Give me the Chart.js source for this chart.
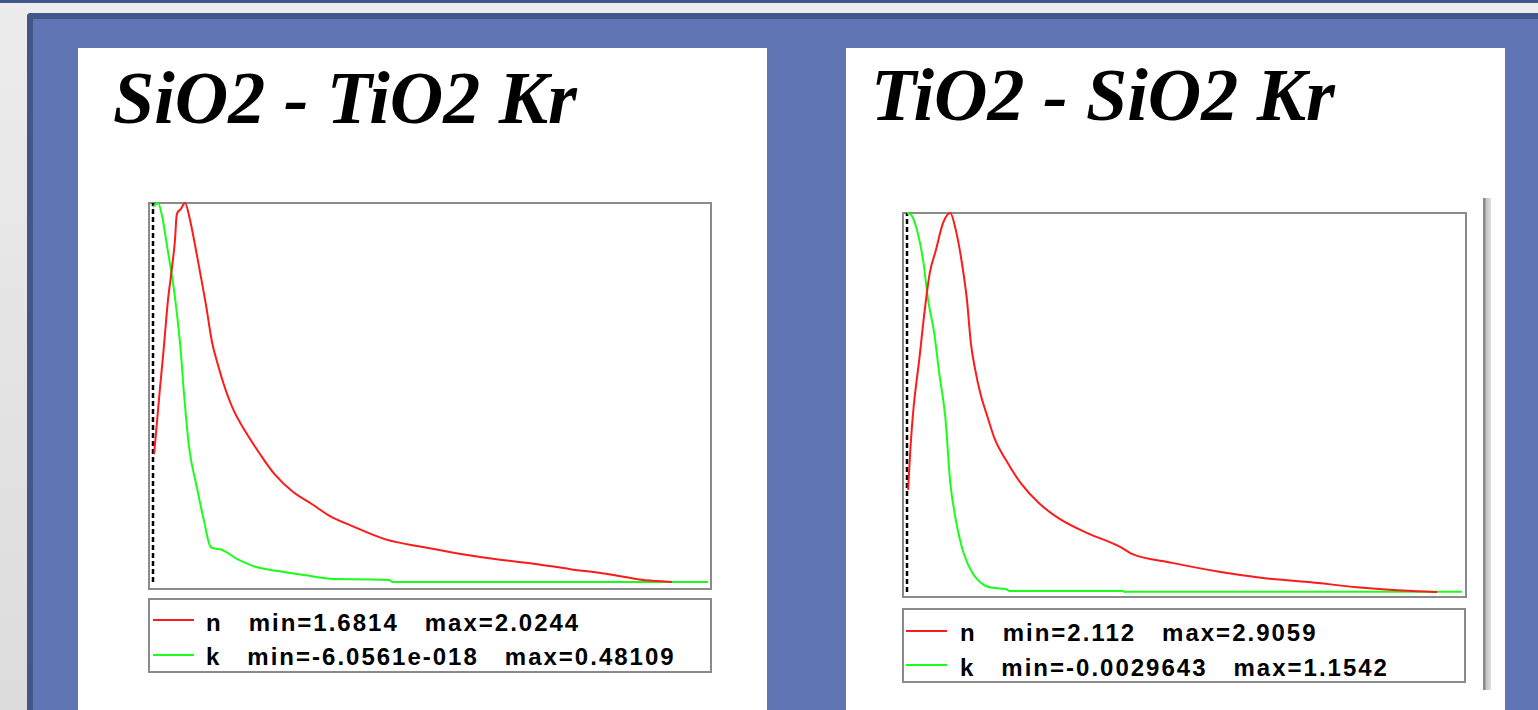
<!DOCTYPE html>
<html>
<head>
<meta charset="utf-8">
<script src="https://cdn.jsdelivr.net/npm/chart.js@4"></script>
<style>
  html, body { margin: 0; padding: 0; }
  body { width: 1538px; height: 710px; overflow: hidden; position: relative; background: #ececec; font-family: "Liberation Sans", Arial, sans-serif; }
  .topbar { position: absolute; left: 0; top: 0; width: 1538px; height: 3px; background: #43568a; }
  .side { position: absolute; left: 0; top: 3px; width: 27px; height: 707px; background: linear-gradient(#ececec, #dcdcdc); }
  .slide { position: absolute; left: 27px; top: 13px; width: 1505px; height: 691px; background: #6076b4;
           border-top: 6px solid #43568a; border-left: 6px solid #43568a; border-top-left-radius: 4px; }
  .panel { position: absolute; background: #fff; }
  .title { position: absolute; font-family: "Liberation Serif", "Times New Roman", serif; font-weight: bold; font-style: italic;
           font-size: 74px; line-height: 74px; color: #000; white-space: pre; }
  .box { position: absolute; box-sizing: border-box; border: 2px solid #8a8a8a; }
  .plot { position: absolute; }
  .legend { position: absolute; box-sizing: border-box; border: 2px solid #8a8a8a; background: #fff; }
  .row { position: absolute; left: 56px; font-weight: bold; font-size: 24px; line-height: 24px; letter-spacing: 2px; white-space: pre; color: #000; }
  .sw { position: absolute; height: 2px; width: 41px; }
  .scroll { position: absolute; left: 1483px; top: 198px; width: 8px; height: 492px;
            background: linear-gradient(to right, #8a8a8a 0, #8a8a8a 2px, #c4c4c4 3px, #dedede 8px); }
</style>
</head>
<body>
<div class="topbar"></div>
<div class="side"></div>
<div class="slide"></div>

<div class="panel" style="left:78px;top:48px;width:689px;height:662px;"></div>
<div class="panel" style="left:846px;top:48px;width:659px;height:662px;"></div>

<div class="title" style="left:113px;top:61px;">SiO2 - TiO2 Kr</div>
<div class="title" style="left:871px;top:58px;">TiO2 - SiO2 Kr</div>

<div class="box" style="left:148px;top:202px;width:564px;height:388px;"></div>
<canvas id="c1" class="plot" width="564" height="388" style="left:148px;top:202px;"></canvas>
<div class="legend" id="leg1" style="left:148px;top:598px;width:564px;height:75px;"></div>

<div class="box" style="left:902px;top:212px;width:565px;height:386px;"></div>
<canvas id="c2" class="plot" width="565" height="386" style="left:902px;top:212px;"></canvas>
<div class="legend" id="leg2" style="left:902px;top:608px;width:564px;height:75px;"></div>

<div class="scroll"></div>

<script>
// ---------- data (x: relative position along the spectrum, 0..100) ----------
// SiO2 - TiO2 Kr
const n1X = [0.2, 1.26, 1.86, 2.7, 3.37, 3.96, 4.27, 4.86, 5.77, 6.67, 7.57, 8.47, 9.55, 10.63, 11.71, 12.97, 14.6, 16.6, 19.3, 21.9, 25.2, 28.6, 31.9, 35.9, 41.9, 48.6, 55.2, 61.9, 68.6, 75.2, 81.9, 88.0, 93.5];
const n1Y = [1.797, 1.857, 1.8887, 1.9366, 1.9638, 1.9909, 2.0135, 2.018, 2.0244, 2.009, 1.9864, 1.962, 1.932, 1.8986, 1.8778, 1.857, 1.836, 1.818, 1.797, 1.779, 1.763, 1.752, 1.741, 1.732, 1.720, 1.713, 1.707, 1.702, 1.698, 1.693, 1.6886, 1.6835, 1.6814];
const k1X = [0, 0.9, 1.6, 2.5, 3.9, 4.9, 5.6, 6.5, 7.9, 9.2, 10.4, 11.9, 15.2, 18.6, 22.5, 27.2, 32.6, 42.5, 43.2, 100];
const k1Y = [0.476, 0.48109, 0.4659, 0.4279, 0.3646, 0.3013, 0.238, 0.1709, 0.1203, 0.0773, 0.0443, 0.0418, 0.0291, 0.019, 0.0139, 0.0089, 0.0038, 0.0025, 0, 0];
const n1Range = [1.6814, 2.0244];
const k1Range = [-6.0561e-18, 0.48109];
const leg1 = ['n   min=1.6814   max=2.0244', 'k   min=-6.0561e-018   max=0.48109'];

// TiO2 - SiO2 Kr
const n2X = [0.2, 0.6, 1.2, 2.2, 3.2, 4.1, 5.2, 6.5, 7.8, 8.8, 9.8, 10.8, 11.5, 12.2, 13.2, 14.5, 15.9, 17.8, 20.5, 23.8, 27.8, 32.4, 38.5, 40.5, 47.8, 56.5, 64.5, 72.4, 81.1, 91.2, 95.5];
const n2Y = [2.326, 2.410, 2.500, 2.598, 2.703, 2.780, 2.828, 2.885, 2.9059, 2.870, 2.808, 2.724, 2.634, 2.583, 2.529, 2.479, 2.430, 2.389, 2.340, 2.298, 2.263, 2.236, 2.206, 2.192, 2.173, 2.154, 2.141, 2.133, 2.122, 2.114, 2.112];
const k2X = [0, 0.8, 1.8, 2.9, 3.8, 4.9, 5.8, 6.9, 7.8, 8.8, 10.2, 11.8, 13.9, 15.9, 17.8, 18.5, 38.8, 39.4, 39.8, 100];
const k2Y = [1.1542, 1.148, 1.102, 1.011, 0.889, 0.788, 0.666, 0.531, 0.330, 0.217, 0.116, 0.055, 0.018, 0.009, 0.006, 0, 0, -0.0029643, -0.0022, -0.0022];
const n2Range = [2.112, 2.9059];
const k2Range = [-0.0029643, 1.1542];
const leg2 = ['n   min=2.112   max=2.9059', 'k   min=-0.0029643   max=1.1542'];

const RED = '#ff1a1a', GREEN = '#1aff1a';

function pts(xs, ys) { return xs.map((x, i) => ({ x, y: ys[i] })); }

function makeChart(id, nX, nY, kX, kY, nR, kR, pad) {
  new Chart(document.getElementById(id), {
    type: 'line',
    data: { datasets: [
      { data: pts(nX, nY), yAxisID: 'yn', borderColor: RED, borderWidth: 2, cubicInterpolationMode: 'monotone', clip: false },
      { data: pts(kX, kY), yAxisID: 'yk', borderColor: GREEN, borderWidth: 2, cubicInterpolationMode: 'monotone', clip: false },
      // dashed marker at the start of the range
      { data: [{ x: 0, y: nR[0] }, { x: 0, y: nR[1] }], yAxisID: 'yn', borderColor: '#000', borderWidth: 2.5, borderDash: [5, 3], clip: false }
    ]},
    options: {
      responsive: false, animation: false, devicePixelRatio: 1,
      layout: { padding: pad },
      elements: { point: { radius: 0 } },
      plugins: { legend: { display: false }, tooltip: { enabled: false } },
      scales: {
        x: { type: 'linear', min: 0, max: 100, display: false },
        yn: { type: 'linear', min: nR[0], max: nR[1], display: false },
        yk: { type: 'linear', min: kR[0], max: kR[1], display: false }
      }
    }
  });
}

function makeLegend(id, lines, swY, rowY, swX) {
  const el = document.getElementById(id);
  [RED, GREEN].forEach((c, i) => {
    el.innerHTML += `<div class="sw" style="left:${swX}px;top:${swY[i]}px;background:${c}"></div>` +
                    `<div class="row" style="top:${rowY[i]}px">${lines[i]}</div>`;
  });
}

makeChart('c1', n1X, n1Y, k1X, k1Y, n1Range, k1Range, { left: 5, right: 4, top: 1, bottom: 8 });
makeChart('c2', n2X, n2Y, k2X, k2Y, n2Range, k2Range, { left: 5, right: 5, top: 1, bottom: 6 });
makeLegend('leg1', leg1, [19, 54], [11, 45], 3);
makeLegend('leg2', leg2, [20, 54], [11, 46], 2);
</script>
</body>
</html>
